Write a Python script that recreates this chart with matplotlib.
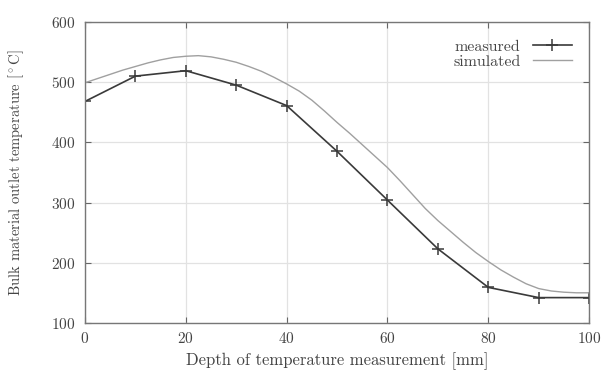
import matplotlib
matplotlib.use("Agg")
import matplotlib.pyplot as plt
import numpy as np

plt.rcParams['font.family'] = ['cmr10', 'DejaVu Serif']
plt.rcParams['mathtext.fontset'] = 'cm'
plt.rcParams['axes.formatter.use_mathtext'] = True

# measured points (depth in mm, temperature in deg C)
depth_meas = [0, 10, 20, 30, 40, 50, 60, 70, 80, 90, 100]
temp_meas = [468, 510, 519, 495, 461, 385, 304, 223, 159, 142, 142]

# simulated curve, read off every 2.5 mm
depth_sim = [0, 2.5, 5, 7.5, 10, 12.5, 15, 17.5, 20, 22.5, 25, 27.5, 30,
             32.5, 35, 37.5, 40, 42.5, 45, 47.5, 50, 52.5, 55, 57.5, 60,
             62.5, 65, 67.5, 70, 72.5, 75, 77.5, 80, 82.5, 85, 87.5, 90,
             92.5, 95, 97.5, 100]
temp_sim = [499, 506, 513, 520, 526, 532, 537, 541, 543, 544, 542, 538, 533,
            526, 518, 508, 497, 485, 470, 452, 433, 415, 396, 377, 358,
            336, 313, 290, 270, 252, 234, 217, 202, 188, 176, 165, 157,
            153, 151, 150, 150]

x_ticks = [0, 20, 40, 60, 80, 100]
y_ticks = [100, 200, 300, 400, 500, 600]

fig = plt.figure(figsize=(6.03, 3.72), dpi=100)
ax = fig.add_axes([0.141, 0.132, 0.836, 0.809])

ax.plot(depth_meas, temp_meas, color='#3a3a3a', lw=1.2, marker='+',
        ms=9, mew=1.1, label='measured')
ax.plot(depth_sim, temp_sim, color='#a0a0a0', lw=1.0, label='simulated')

ax.set_xlim(0, 100)
ax.set_ylim(100, 600)
ax.set_xticks(x_ticks)
ax.set_yticks(y_ticks)
ax.grid(True, color='#e2e2e2', lw=0.9)
ax.set_axisbelow(True)
ax.tick_params(direction='in', top=True, right=True, length=4,
               color='#666666', labelsize=11, labelcolor='#444444')
ax.tick_params(axis='y', pad=7)
ax.tick_params(axis='x', pad=6)
for s in ax.spines.values():
    s.set_color('#777777')
    s.set_linewidth(1.0)

ax.set_xlabel('Depth of temperature measurement [mm]', fontsize=12,
              color='#444444', labelpad=4)
ax.set_ylabel(r'Bulk material outlet temperature [$^\circ$C]', fontsize=10.5,
              color='#444444', labelpad=18)

leg = ax.legend(loc='upper right', frameon=False, markerfirst=False,
                fontsize=11.5, handlelength=2.4, borderaxespad=0.7,
                labelspacing=0.05)
for t in leg.get_texts():
    t.set_color('#444444')

fig.savefig('out.png', dpi=100)
